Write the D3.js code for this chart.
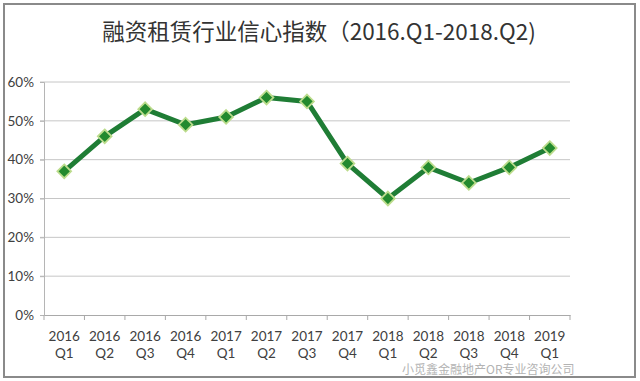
<!DOCTYPE html>
<html><head><meta charset="utf-8">
<script src="https://cdn.jsdelivr.net/npm/d3@7"></script>
<style>
body{margin:0;background:#fff;}
svg{display:block;}
</style></head>
<body>
<svg id="c" width="640" height="381"></svg>
<script>
const years = ["2016","2016","2016","2016","2017","2017","2017","2017","2018","2018","2018","2018","2019"];
const quarters = ["Q1","Q2","Q3","Q4","Q1","Q2","Q3","Q4","Q1","Q2","Q3","Q4","Q1"];
const values = [37, 46, 53, 49, 51, 56, 55, 39, 30, 38, 34, 38, 43];
const yTicks = [0, 10, 20, 30, 40, 50, 60];
const title = "融资租赁行业信心指数（2016.Q1-2018.Q2)";
const watermark = "小觅鑫金融地产OR专业咨询公司";

const svg = d3.select("#c");
const W = 640, H = 381;
const m = {left:44, right:70, top:82, bottom:66};
const latin = "Lato, 'Noto Sans', sans-serif";

// frame
svg.append("rect").attr("x",4).attr("y",4).attr("width",631).attr("height",373)
  .attr("fill","#fff").attr("stroke","#8a8a8a").attr("stroke-width",2);

svg.append("text").attr("x",319).attr("y",40).attr("text-anchor","middle")
  .attr("font-family","'Noto Sans CJK SC', sans-serif").attr("font-size",22.5)
  .attr("fill","#333").text(title);

const idx = values.map((d,i)=>i);
const x = d3.scaleBand().domain(idx).range([m.left, W - m.right]);
const y = d3.scaleLinear().domain([0,60]).range([H - m.bottom, m.top]);

// gridlines
svg.append("g").selectAll("line").data(yTicks.filter(d=>d>0)).join("line")
  .attr("x1",m.left-4).attr("x2",W-m.right)
  .attr("y1",d=>y(d)).attr("y2",d=>y(d))
  .attr("stroke","#c6c6c6").attr("stroke-width",1);

// y axis
const ya = svg.append("g").attr("transform",`translate(${m.left},0)`)
  .call(d3.axisLeft(y).tickValues(yTicks).tickFormat(d=>d+"%").tickSize(4).tickPadding(6));
ya.select(".domain").attr("stroke","#b5b5b5");
ya.selectAll(".tick line").attr("stroke","#b5b5b5");
ya.selectAll("text").attr("font-family",latin).attr("font-size",13.5).attr("fill","#404040");

// x axis
const xa = svg.append("g").attr("transform",`translate(0,${y(0)})`)
  .call(d3.axisBottom(x).tickSize(0).tickFormat(""));
xa.select(".domain").attr("stroke","#a9a9a9");
xa.selectAll(".tick").remove();
const bounds = idx.map(i=>x(i)).concat([x(idx[idx.length-1])+x.bandwidth()]);
svg.append("g").selectAll("line").data(bounds).join("line")
  .attr("x1",d=>d).attr("x2",d=>d).attr("y1",y(0)).attr("y2",y(0)+5)
  .attr("stroke","#a9a9a9");
const lab = svg.append("g").attr("font-family",latin).attr("font-size",13.5)
  .attr("fill","#404040").attr("text-anchor","middle");
lab.selectAll("text.yr").data(idx).join("text").attr("class","yr")
  .attr("x",i=>x(i)+x.bandwidth()/2).attr("y",y(0)+26).text(i=>years[i]);
lab.selectAll("text.q").data(idx).join("text").attr("class","q")
  .attr("x",i=>x(i)+x.bandwidth()/2).attr("y",y(0)+43).text(i=>quarters[i]);

// line
const cx = i=>x(i)+x.bandwidth()/2;
const line = d3.line().x((d,i)=>cx(i)).y(d=>y(d));
svg.append("path").datum(values).attr("d",line).attr("fill","none")
  .attr("stroke","#1f7d35").attr("stroke-width",5).attr("stroke-linejoin","round");

// markers
svg.append("g").selectAll("path").data(values).join("path")
  .attr("d",d3.symbol().type(d3.symbolDiamond2).size(120))
  .attr("transform",(d,i)=>`translate(${cx(i)},${y(d)})`)
  .attr("fill","#238a2e").attr("stroke","#bcdc8c").attr("stroke-width",1.8);

// watermark
svg.append("text").attr("x",402).attr("y",374)
  .attr("font-family","'Noto Sans CJK SC', sans-serif").attr("font-size",12)
  .attr("fill","#9a9a9a").attr("opacity",0.75).text(watermark);
</script>
</body></html>
